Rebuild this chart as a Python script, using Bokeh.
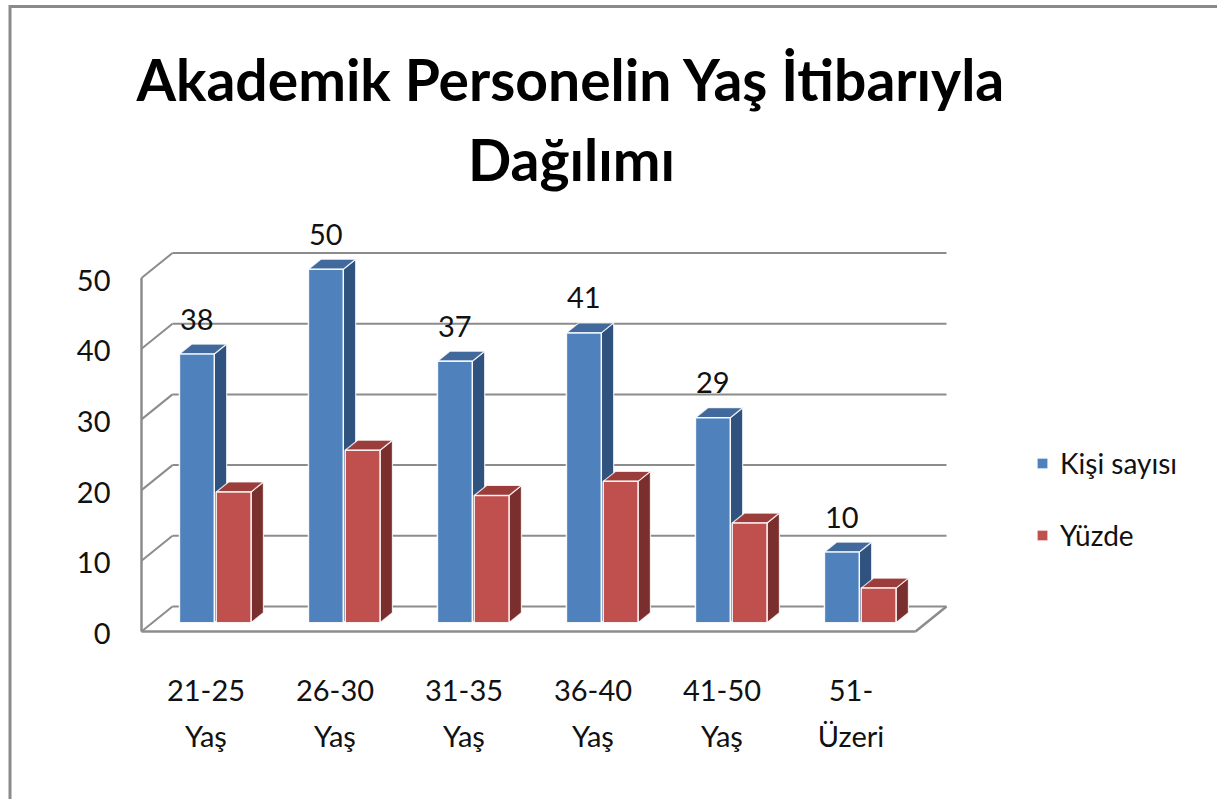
from bokeh.plotting import figure
from bokeh.models import Range1d, Legend, LegendItem
from bokeh.embed import file_html
from bokeh.resources import INLINE
from bokeh.core.properties import value

# ---------------- data ----------------
title_lines = ["Akademik Personelin Yaş İtibarıyla", "Dağılımı"]
categories = ["21-25\nYaş", "26-30\nYaş", "31-35\nYaş", "36-40\nYaş", "41-50\nYaş", "51-\nÜzeri"]
series_names = ["Kişi sayısı", "Yüzde"]
kisi_sayisi = [38, 50, 37, 41, 29, 10]
yuzde = [18.5, 24.4, 18.0, 20.0, 14.1, 4.9]
y_ticks = [0, 10, 20, 30, 40, 50]

# ---------------- layout (page pixels) ----------------
ORIGIN = 0                 # page offset of the canvas
W, H = 1217, 799
X0, SX = 141.0, 129.0      # page x of front-left corner, px per category slot
Y0, SY = 631.0, 7.07       # page y of value 0 on front plane, px per value unit
DXP, DYP = 31.0, 25.0      # depth offset (front -> back) in px
FONT = "Lato"


def px2x(px):
    return (px - X0) / SX


def px2y(py):
    return (Y0 - py) / SY


DX = DXP / SX
DY = DYP / SY


def pt(x, v, d):
    return x + d * DX, v + d * DY


def poly(points):
    xs, ys = [], []
    for (x, v, d) in points:
        a, b = pt(x, v, d)
        xs.append(a)
        ys.append(b)
    return xs, ys


p = figure(width=W, height=H, output_backend="svg", toolbar_location=None, title=None, tools="",
           x_range=Range1d(px2x(ORIGIN), px2x(ORIGIN + W)),
           y_range=Range1d(px2y(ORIGIN + H), px2y(ORIGIN)),
           x_axis_location=None, y_axis_location=None, min_border=0,
           outline_line_color=None, background_fill_color="white",
           border_fill_color="white")
p.grid.visible = False
p.toolbar.logo = None

n = len(categories)
ymax = y_ticks[-1]
GRID = "#8C8C8C"

# chart area border (top / left) as one open polyline
p.line([px2x(9.5), px2x(9.5), px2x(ORIGIN + W + 20)],
       [px2y(ORIGIN + H + 20), px2y(6), px2y(6)],
       line_color="#8A8A8A", line_width=3, line_join="miter")

# back wall gridlines and left wall diagonals
gx, gy = [], []
for v in y_ticks:
    a = pt(0, v, 1)
    b = pt(n, v, 1)
    gx.append([a[0], b[0]])
    gy.append([a[1], b[1]])
    c = pt(0, v, 0)
    gx.append([c[0], a[0]])
    gy.append([c[1], a[1]])
p.multi_line(gx, gy, line_color=GRID, line_width=2)

# front vertical axis line and floor edges
fx, fy = [], []
for seg in [((0, 0, 0), (0, ymax, 0)), ((0, 0, 0), (n, 0, 0)), ((n, 0, 0), (n, 0, 1))]:
    xs, ys = poly(seg)
    fx.append(xs)
    fy.append(ys)
p.multi_line(fx, fy, line_color=GRID, line_width=2.5)

# ---------------- bars ----------------
BAR_OFF = [0.21, 0.495]
BAR_W = 0.27
D0, D1 = 0.35, 0.75
colors = [("#4F81BD", "#41699C", "#30527E"), ("#C0504D", "#9B3D3B", "#7A2E2D")]

front_renderers = []
for s, vals in enumerate([kisi_sayisi, yuzde]):
    fxs, fys, txs, tys, sxs, sys_ = [], [], [], [], [], []
    for i, val in enumerate(vals):
        xa = i + BAR_OFF[s]
        xb = xa + BAR_W
        a, b = poly([(xa, 0, D0), (xb, 0, D0), (xb, val, D0), (xa, val, D0)])
        fxs.append(a); fys.append(b)
        a, b = poly([(xa, val, D0), (xb, val, D0), (xb, val, D1), (xa, val, D1)])
        txs.append(a); tys.append(b)
        a, b = poly([(xb, 0, D0), (xb, 0, D1), (xb, val, D1), (xb, val, D0)])
        sxs.append(a); sys_.append(b)
    front, top, side = colors[s]
    p.patches(sxs, sys_, fill_color=side, line_color="white", line_width=1.2, line_alpha=0.8)
    p.patches(txs, tys, fill_color=top, line_color="white", line_width=1.2, line_alpha=0.8)
    r = p.patches(fxs, fys, fill_color=front, line_color="white", line_width=1.5, line_alpha=0.9)
    front_renderers.append(r)

# data labels for first series
lx = [i + BAR_OFF[0] + BAR_W / 2 + D0 * DX for i in range(n)]
ly = [v + D0 * DY + 35.0 / SY for v in kisi_sayisi]
p.text(lx, ly, text=[str(v) for v in kisi_sayisi], text_font=value(FONT), text_font_size="29px",
       text_align="center", text_baseline="middle", text_color="#111111")

# y tick labels
p.text([px2x(110)] * len(y_ticks), [v - 0.3 for v in y_ticks], text=[str(v) for v in y_ticks],
       text_font=value(FONT), text_font_size="29px", text_align="right", text_baseline="middle",
       text_color="#111111")

# category labels (two lines)
line1 = [c.split("\n")[0] for c in categories]
line2 = [c.split("\n")[1] for c in categories]
cx = [i + 0.5 for i in range(n)]
p.text(cx, [px2y(690)] * n, text=line1, text_font=value(FONT), text_font_size="29px",
       text_align="center", text_baseline="middle", text_color="#111111")
p.text(cx, [px2y(735)] * n, text=line2, text_font=value(FONT), text_font_size="29px",
       text_align="center", text_baseline="middle", text_color="#111111")

# title
p.text([px2x(571)] * 2, [px2y(78), px2y(158)], text=title_lines, text_font=value(FONT),
       text_font_size="57px", text_font_style="bold", text_align="center",
       text_baseline="middle", text_color="black")

# legend
legend = Legend(items=[LegendItem(label=series_names[k], renderers=[front_renderers[k]]) for k in range(2)],
                location=(1035 - ORIGIN, (ORIGIN + H) - 552), orientation="vertical",
                glyph_width=14, glyph_height=14, label_height=30, spacing=38, padding=0, margin=0,
                label_standoff=11, label_text_font=FONT, label_text_font_size="28px",
                label_text_color="#111111", border_line_color=None, background_fill_alpha=0)
p.add_layout(legend)

open("out.html", "w").write(file_html(p, INLINE))
